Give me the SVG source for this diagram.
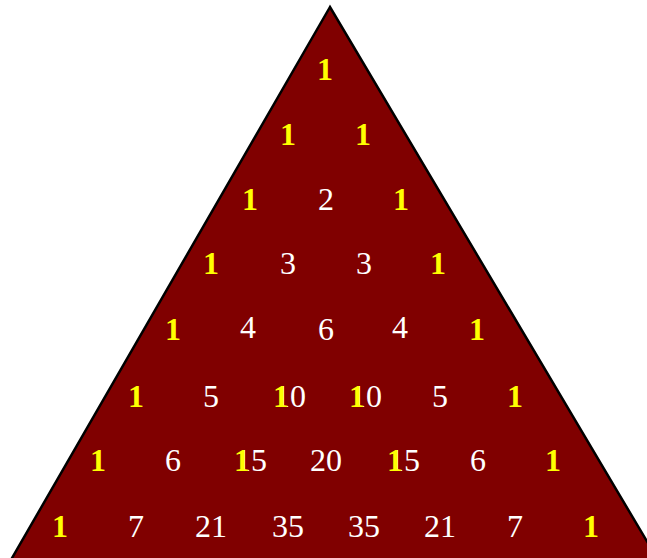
<svg xmlns="http://www.w3.org/2000/svg" width="647" height="558" viewBox="0 0 647 558">
<style>
.n{font-family:"Liberation Serif","Times New Roman",serif;font-size:32px;fill:#fff;text-anchor:middle}
.y{font-family:"Liberation Serif","Times New Roman",serif;font-size:32px;font-weight:bold;fill:#ff0;text-anchor:middle}
.ys{font-family:"Liberation Serif","Times New Roman",serif;font-size:32px;font-weight:bold;fill:#ff0}
.w{font-family:"Liberation Serif","Times New Roman",serif;font-size:32px;fill:#fff}
</style>
<rect width="647" height="558" fill="#fff"/>
<g id="triangle">
<polygon points="330,7 8,565 661,565" fill="#800000" stroke="#000" stroke-width="2.5"/>
</g>
<g id="row0"><text class="y" x="325" y="80">1</text></g>
<g id="row1"><text class="y" x="288" y="145">1</text><text class="y" x="363" y="145">1</text></g>
<g id="row2"><text class="y" x="250" y="210">1</text><text class="n" x="326" y="210">2</text><text class="y" x="401" y="210">1</text></g>
<g id="row3"><text class="y" x="211" y="274">1</text><text class="n" x="288" y="274">3</text><text class="n" x="364" y="274">3</text><text class="y" x="438" y="274">1</text></g>
<g id="row4"><text class="y" x="173" y="340">1</text><text class="n" x="248" y="338">4</text><text class="n" x="326" y="340">6</text><text class="n" x="400" y="338">4</text><text class="y" x="477" y="340">1</text></g>
<g id="row5"><text class="y" x="136" y="407">1</text><text class="n" x="211" y="407">5</text><text class="w" x="274" y="407">10</text><text class="ys" x="273" y="407">1</text><text class="w" x="350" y="407">10</text><text class="ys" x="349" y="407">1</text><text class="n" x="440" y="407">5</text><text class="y" x="515" y="407">1</text></g>
<g id="row6"><text class="y" x="98" y="471">1</text><text class="n" x="173" y="471">6</text><text class="w" x="235" y="471">15</text><text class="ys" x="234" y="471">1</text><text class="n" x="326" y="471">20</text><text class="w" x="388" y="471">15</text><text class="ys" x="387" y="471">1</text><text class="n" x="478" y="471">6</text><text class="y" x="553" y="471">1</text></g>
<g id="row7"><text class="y" x="60" y="537">1</text><text class="n" x="136" y="537">7</text><text class="n" x="211" y="537">21</text><text class="n" x="288" y="537">35</text><text class="n" x="364" y="537">35</text><text class="n" x="440" y="537">21</text><text class="n" x="515" y="537">7</text><text class="y" x="591" y="537">1</text></g>
</svg>
